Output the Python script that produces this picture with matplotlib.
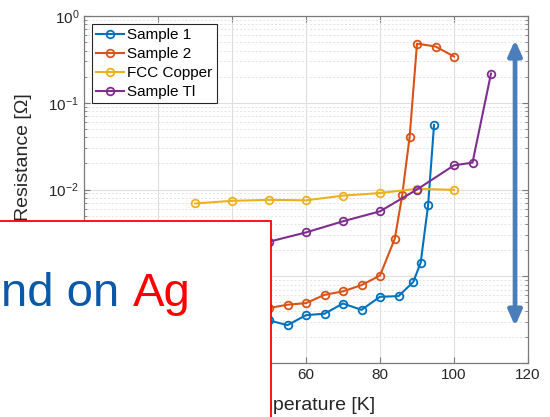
import matplotlib
matplotlib.use("Agg")
import matplotlib.pyplot as plt
from matplotlib.patches import Rectangle
from matplotlib.ticker import LogLocator, NullFormatter, MultipleLocator

plt.rcParams['font.family'] = ['Liberation Sans', 'DejaVu Sans']
plt.rcParams['mathtext.fontset'] = 'custom'
plt.rcParams['mathtext.rm'] = 'Liberation Sans'
plt.rcParams['mathtext.it'] = 'Liberation Sans:italic'

# Resistance vs temperature measurements
t_sample1 = [50, 55, 60, 65, 70, 75, 80, 85, 89, 91, 93, 94.6]
r_sample1 = [3.1e-4, 2.73e-4, 3.56e-4, 3.7e-4, 4.85e-4, 4.1e-4, 5.8e-4, 5.9e-4,
             8.6e-4, 1.44e-3, 6.6e-3, 0.0554]

t_sample2 = [50, 55, 60, 65, 70, 75, 80, 84, 86, 88, 90, 95, 100]
r_sample2 = [4.3e-4, 4.7e-4, 4.9e-4, 6.1e-4, 6.7e-4, 7.9e-4, 1.02e-3, 2.71e-3,
             8.6e-3, 0.0403, 0.48, 0.445, 0.341]

t_copper = [30, 40, 50, 60, 70, 80, 90, 100]
r_copper = [6.9e-3, 7.4e-3, 7.6e-3, 7.5e-3, 8.5e-3, 9.1e-3, 0.0102, 0.0099]

t_tl = [50, 60, 70, 80, 90, 100, 105, 110]
r_tl = [2.5e-3, 3.2e-3, 4.3e-3, 5.6e-3, 0.0100, 0.0190, 0.0204, 0.217]

series = [
    ("Sample 1", t_sample1, r_sample1, "#0072BD"),
    ("Sample 2", t_sample2, r_sample2, "#D95319"),
    ("FCC Copper", t_copper, r_copper, "#EDB120"),
    ("Sample Tl", t_tl, r_tl, "#7E2F8E"),
]

fig = plt.figure(figsize=(5.5, 4.17), dpi=100)
ax = fig.add_axes([84 / 550, 54 / 417, 444 / 550, 347 / 417])

for name, t, r, c in series:
    ax.plot(t, r, '-o', color=c, lw=1.5, ms=5.5, mfc='none', mew=1.3, label=name)

ax.set_yscale('log')
ax.set_xlim(0, 120)
ax.set_ylim(1e-4, 1)
ax.xaxis.set_major_locator(MultipleLocator(20))
ax.yaxis.set_major_locator(LogLocator(base=10, numticks=10))
ax.yaxis.set_minor_locator(LogLocator(base=10, subs=range(2, 10), numticks=10))
ax.yaxis.set_minor_formatter(NullFormatter())

edge = '#7a7a7a'
for s in ax.spines.values():
    s.set_color(edge)
    s.set_linewidth(0.9)
ax.tick_params(which='both', direction='in', top=True, right=True,
               colors=edge, labelcolor='#262626', labelsize=11)
ax.tick_params(which='major', length=4)
ax.tick_params(which='minor', length=2.5)

ax.grid(True, which='major', color='#dedede', lw=0.8, ls='-')
ax.grid(True, which='minor', axis='y', color='#e4e4e4', lw=0.7, ls=(0, (2, 2)))
ax.set_axisbelow(True)

ax.set_xlabel('Temperature [K]', fontsize=14, color='#262626')
ax.set_ylabel('Resistance [Ω]', fontsize=14, color='#262626')
ax.yaxis.set_label_coords(-52 / 444, (363 - 157) / 347)
ax.xaxis.set_label_coords(0.5, -(405 - 363) / 347)
ax.xaxis.label.set_va('center')

leg = ax.legend(loc='upper left', fontsize=11, frameon=True, fancybox=False,
                edgecolor='#262626', framealpha=1, borderaxespad=0.5,
                handlelength=1.85, handletextpad=0.15, labelspacing=0.32,
                borderpad=0.3)
leg.get_frame().set_linewidth(0.8)

# double-headed arrow spanning the resistance range
ax.annotate('', xy=(116.5, 0.53), xytext=(116.5, 2.66e-4),
            arrowprops=dict(arrowstyle='<|-|>,head_length=0.45,head_width=0.2',
                            mutation_scale=20, color='#4A7EBB', lw=3.4,
                            shrinkA=0, shrinkB=0))

# overlay caption box
box = Rectangle((-0.02, -0.02), 271 / 550 + 0.02, 196 / 417 + 0.02,
                transform=fig.transFigure, facecolor='white',
                edgecolor='#FF0000', lw=1.3, zorder=10)
fig.add_artist(box)
fig.text(119 / 550, 111 / 417, 'nd on', fontsize=34, color='#0A58A8',
         ha='right', va='baseline', zorder=11)
fig.text(133 / 550, 111 / 417, 'Ag', fontsize=34, color='#FF0000',
         ha='left', va='baseline', zorder=11)

fig.savefig('out.png', dpi=100)
